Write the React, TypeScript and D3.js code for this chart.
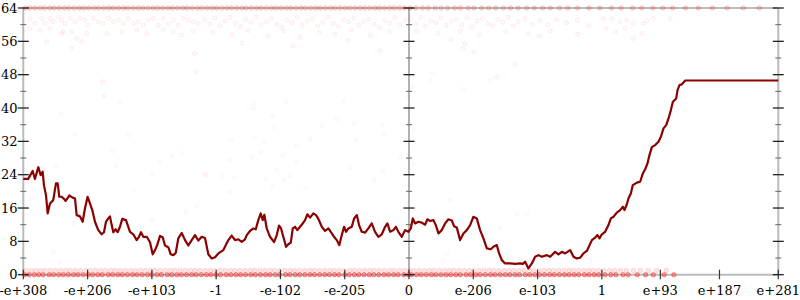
import React from "react";
import * as d3 from "d3";

// x positions are in "tick units": each labelled tick is one unit on the left half
const xTickValues = [-6, -5, -4, -3, -2, -1, 0, 1, 2, 3, 3.91, 4.83, 5.745];
const xTickLabels = ["-e+308", "-e+206", "-e+103", "-1", "-e-102", "-e-205", "0", "e-206", "e-103", "1", "e+93", "e+187", "e+281"];
const yMajorTicks = [0, 8, 16, 24, 32, 40, 48, 56, 64];
const yMinorTicks = [4, 12, 20, 28, 36, 44, 52, 60];

// moving-average line
const lineX = [
  -6.0, -5.923, -5.855, -5.819, -5.767, -5.73, -5.699, -5.679, -5.647, -5.621, -5.585, -5.534, -5.492, -5.465, -5.44, -5.403,
  -5.367, -5.341, -5.285, -5.232, -5.196, -5.17, -5.119, -5.077, -5.041, -5.0, -4.963, -4.927, -4.885, -4.834, -4.781, -4.745,
  -4.714, -4.678, -4.652, -4.625, -4.6, -4.563, -4.532, -4.496, -4.46, -4.403, -4.376, -4.34, -4.289, -4.236, -4.2, -4.169,
  -4.133, -4.08, -4.029, -3.987, -3.951, -3.915, -3.873, -3.831, -3.796, -3.744, -3.707, -3.666, -3.629, -3.589, -3.536, -3.484,
  -3.433, -3.38, -3.329, -3.277, -3.224, -3.173, -3.122, -3.069, -3.017, -2.966, -2.888, -2.81, -2.758, -2.706, -2.655, -2.602,
  -2.551, -2.524, -2.473, -2.421, -2.384, -2.344, -2.306, -2.275, -2.25, -2.213, -2.162, -2.099, -2.057, -2.021, -1.99, -1.955,
  -1.913, -1.877, -1.839, -1.808, -1.772, -1.737, -1.695, -1.653, -1.617, -1.581, -1.539, -1.488, -1.446, -1.41, -1.357, -1.306,
  -1.254, -1.201, -1.166, -1.124, -1.083, -1.046, -1.01, -0.979, -0.943, -0.89, -0.854, -0.812, -0.777, -0.735, -0.683, -0.632,
  -0.579, -0.528, -0.476, -0.423, -0.372, -0.336, -0.294, -0.243, -0.205, -0.165, -0.112, -0.061, -0.009, 0.028, 0.059, 0.095,
  0.146, 0.199, 0.251, 0.286, 0.328, 0.38, 0.417, 0.458, 0.51, 0.562, 0.613, 0.666, 0.702, 0.744, 0.795, 0.847,
  0.899, 0.951, 1.002, 1.055, 1.106, 1.158, 1.211, 1.273, 1.313, 1.366, 1.402, 1.444, 1.495, 1.573, 1.651, 1.729,
  1.771, 1.806, 1.858, 1.911, 1.962, 2.014, 2.067, 2.144, 2.196, 2.274, 2.325, 2.378, 2.43, 2.507, 2.559, 2.611,
  2.663, 2.714, 2.767, 2.845, 2.896, 2.932, 2.963, 3.0, 3.051, 3.103, 3.14, 3.181, 3.233, 3.285, 3.327, 3.352,
  3.389, 3.414, 3.451, 3.482, 3.545, 3.596, 3.638, 3.674, 3.71, 3.741, 3.778, 3.83, 3.881, 3.919, 3.959, 4.001,
  4.037, 4.074, 4.105, 4.157, 4.177, 4.208, 4.245, 4.297, 5.745,
];
const lineY = [
  23.0, 23.0, 24.9, 23.0, 25.8, 23.9, 24.7, 21.5, 19.1, 14.7, 17.1, 17.9, 21.9, 21.9, 18.7, 18.7,
  18.2, 17.7, 19.0, 18.5, 18.3, 14.3, 14.0, 12.7, 15.9, 18.7, 17.1, 15.5, 12.7, 10.7, 9.7, 10.2,
  12.7, 13.5, 14.0, 11.9, 10.2, 10.9, 10.2, 11.5, 13.4, 13.1, 11.9, 10.3, 9.7, 8.3, 9.1, 10.2,
  9.1, 9.1, 7.8, 4.9, 5.9, 7.2, 9.3, 9.0, 7.0, 6.6, 4.9, 4.7, 5.2, 8.7, 10.0, 8.3,
  7.0, 8.3, 9.5, 8.2, 9.1, 8.8, 4.9, 3.9, 4.2, 5.1, 5.9, 8.3, 9.4, 8.3, 8.5, 7.9,
  8.5, 9.5, 10.5, 11.1, 10.9, 13.1, 14.7, 13.1, 14.4, 11.1, 9.1, 7.8, 9.5, 11.8, 11.1, 9.1,
  6.7, 7.3, 7.7, 11.1, 11.5, 10.7, 11.5, 12.3, 13.1, 14.5, 13.7, 14.7, 14.3, 13.4, 11.5, 10.5,
  11.1, 9.9, 9.1, 8.3, 7.1, 9.5, 11.5, 10.3, 11.1, 11.5, 13.5, 14.3, 11.9, 10.3, 10.1, 11.1,
  12.3, 10.3, 9.1, 9.7, 11.5, 12.3, 10.3, 10.7, 11.5, 10.3, 9.1, 10.7, 10.3, 11.1, 13.5, 12.3,
  12.7, 12.5, 12.0, 13.3, 12.9, 13.1, 11.9, 9.9, 10.7, 12.3, 13.3, 13.0, 11.6, 11.3, 8.3, 9.9,
  10.7, 11.9, 13.9, 13.5, 10.7, 8.7, 6.3, 6.1, 6.7, 7.1, 5.1, 3.5, 2.7, 2.7, 2.6, 2.7,
  2.6, 3.1, 1.5, 2.7, 4.3, 4.7, 4.3, 4.7, 4.3, 5.5, 4.9, 5.5, 5.1, 5.9, 4.3, 3.9,
  4.1, 5.1, 5.7, 8.3, 8.9, 9.5, 8.7, 9.7, 10.3, 11.9, 13.5, 13.9, 14.9, 15.5, 16.3, 15.5,
  16.9, 18.3, 19.5, 21.5, 22.1, 22.3, 24.3, 25.3, 26.7, 28.7, 30.6, 31.1, 31.9, 33.1, 35.1, 35.9,
  37.5, 39.5, 41.5, 42.3, 44.3, 45.5, 45.7, 46.6, 46.6,
];

// samples sitting at value 0, value 1 and value 64 (x positions)
const zeroX = [
  -5.98, -5.91, -5.83, -5.76, -5.69, -5.6, -5.53, -5.45, -5.38, -5.3, -5.22, -5.15, -5.07, -4.99, -4.92, -4.84, -4.77, -4.68,
  -4.61, -4.53, -4.46, -4.38, -4.3, -4.23, -4.15, -4.07, -4, -3.92, -3.85, -3.76, -3.69, -3.61, -3.54, -3.46, -3.38, -3.31,
  -3.23, -3.15, -3.08, -3, -2.93, -2.84, -2.77, -2.69, -2.62, -2.54, -2.46, -2.39, -2.31, -2.23, -2.16, -2.08, -2.01, -1.92,
  -1.85, -1.77, -1.7, -1.62, -1.54, -1.47, -1.39, -1.31, -1.24, -1.16, -1.09, -1, -0.93, -0.85, -0.78, -0.7, -0.62, -0.55,
  -0.47, -0.39, -0.32, -0.24, -0.17, -0.08, -0.01, 0.04, 0.12, 0.19, 0.27, 0.35, 0.42, 0.5, 0.58, 0.65, 0.73, 0.8, 0.89,
  0.96, 1.04, 1.11, 1.19, 1.27, 1.34, 1.42, 1.5, 1.57, 1.65, 1.72, 1.81, 1.88, 1.96, 2.03, 2.11, 2.19, 2.26, 2.34, 2.42,
  2.49, 2.57, 2.64, 2.73, 2.8, 2.88, 2.95, 3.05, 3.14, 3.22, 3.33, 3.41, 3.55, 3.68, 3.8, 3.97, 4.12,
];
const oneX = [
  -5.95, -5.87, -5.8, -5.73, -5.66, -5.58, -5.5, -5.42, -5.34, -5.27, -5.19, -5.11, -5.03, -4.96, -4.88, -4.8, -4.72, -4.64,
  -4.57, -4.49, -4.41, -4.33, -4.26, -4.18, -4.1, -4.02, -3.95, -3.87, -3.79, -3.71, -3.64, -3.56, -3.48, -3.4, -3.33, -3.25,
  -3.17, -3.09, -3.02, -2.94, -2.86, -2.78, -2.71, -2.63, -2.55, -2.47, -2.4, -2.32, -2.24, -2.16, -2.09, -2.01, -1.93, -1.85,
  -1.78, -1.7, -1.62, -1.54, -1.47, -1.39, -1.31, -1.23, -1.16, -1.08, -1, -0.92, -0.85, -0.77, -0.69, -0.61, -0.54, -0.46,
  -0.38, -0.3, -0.23, -0.15, -0.07, 0.01, 0.08, 0.16, 0.24, 0.32, 0.39, 0.47, 0.55, 0.63, 0.7, 0.78, 0.86, 0.94, 1.01, 1.09,
  1.17, 1.25, 1.32, 1.4, 1.48, 1.56, 1.63, 1.71, 1.79, 1.87, 1.94, 2.02, 2.1, 2.18, 2.25, 2.33, 2.41, 2.49, 2.56, 2.64, 2.72,
  2.8, 2.87, 2.95, 3.03, 3.12, 3.2, 3.29, 3.38, 3.49, 3.6, 3.72, 3.85, 4.0,
];
const topX = [
  -5.97, -5.9, -5.82, -5.74, -5.67, -5.59, -5.52, -5.44, -5.36, -5.29, -5.21, -5.13, -5.06, -4.98, -4.9, -4.83, -4.75, -4.67,
  -4.6, -4.52, -4.44, -4.37, -4.29, -4.21, -4.14, -4.06, -3.98, -3.91, -3.83, -3.75, -3.68, -3.6, -3.52, -3.45, -3.37, -3.29,
  -3.22, -3.14, -3.06, -2.99, -2.91, -2.83, -2.76, -2.68, -2.6, -2.53, -2.45, -2.37, -2.3, -2.22, -2.14, -2.07, -1.99, -1.91,
  -1.84, -1.76, -1.68, -1.61, -1.53, -1.45, -1.38, -1.3, -1.22, -1.15, -1.07, -0.99, -0.92, -0.84, -0.76, -0.69, -0.61, -0.53,
  -0.46, -0.38, -0.3, -0.23, -0.15, -0.07, 0.02, 0.11, 0.21, 0.3, 0.41, 0.5, 0.6, 0.71, 0.8, 0.92, 1.01, 1.13, 1.24, 1.35,
  1.47, 1.58, 1.7, 1.83, 1.95, 2.08, 2.2, 2.34, 2.47, 2.62, 2.8, 2.97, 3.15, 3.3, 3.48, 3.62, 3.79, 3.95, 4.1, 4.3, 4.5,
  4.72, 4.95, 5.2, 5.45,
];

// scattered samples near the top (x, value)
const upperX = [
  -5.896, -5.819, -5.715, -5.663, -5.585, -5.534, -5.456, -5.403, -5.352, -5.274, -5.196, -5.119, -5.041, -4.989, -4.911, -4.834,
  -4.756, -4.678, -4.6, -4.522, -4.444, -4.367, -4.289, -4.211, -4.133, -4.055, -3.978, -3.9, -3.822, -3.744, -3.666, -3.589,
  -3.511, -3.433, -3.355, -3.277, -5.896, -5.74, -5.585, -5.38, -5.25, -5.17, -5.092, -5.403, -5.636, -5.25, -5.014, -4.703,
  -4.469, -4.236, -4.08, -3.822, -3.666, -3.536, -3.355, -3.313, -3.339, -4.765, -4.739,
  -3.18, -3.1, -3.02, -2.94, -2.86, -2.78, -2.7, -2.62, -2.54, -2.46, -2.38, -2.3, -2.22, -2.14, -2.06, -1.98, -1.9, -1.82,
  -1.74, -1.66, -1.58, -1.5, -1.42, -1.34, -1.26, -1.18, -1.1, -1.02, -0.94, -0.86, -0.78, -0.7, -0.62, -0.54, -0.46, -0.38,
  -0.3, -0.22, -0.14, -0.06, -3.05, -2.75, -2.5, -2.2, -1.95, -1.7, -1.4, -1.15, -0.9, -0.6, -0.3, -2.6, -1.8, -0.95, -0.45,
  0.02, 0.1, 0.18, 0.26, 0.34, 0.42, 0.5, 0.58, 0.66, 0.74, 0.82, 0.9, 0.98, 1.06, 1.14, 1.22, 1.3, 1.38, 1.46, 1.54, 1.62,
  1.7, 1.8, 1.92, 2.04, 2.16, 2.3, 2.45, 2.62, 2.8, 3.025, 3.156, 3.285, 3.389, 3.493, 3.648, 3.804, 4.064, 3.067, 3.207,
  3.363, 3.493, 3.623, 3.701, 0.65, 0.873, 0.837, 1.013, 1.651, 2.025, 2.621, 0.12, 0.45, 0.8, 1.1, 1.5, 1.85, 2.2,
];
const upperY = [
  61.5, 60.3, 61.5, 60.3, 61.5, 60.7, 61.9, 61.1, 60.3, 61.5, 60.7, 61.5, 61.1, 59.9, 61.5, 60.7,
  60.3, 61.5, 60.7, 61.1, 60.3, 61.5, 60.3, 60.7, 59.9, 61.1, 61.5, 59.9, 61.5, 60.3, 61.1, 59.9,
  61.5, 61.1, 60.7, 60.3, 59.1, 58.7, 59.1, 58.3, 58.3, 56.7, 55.9, 57.9, 55.9, 54.3, 57.9, 57.9,
  58.3, 58.7, 57.9, 58.7, 58.3, 57.5, 58.3, 48.7, 53.1, 46.3, 43.0,
  61.2, 60.1, 61.6, 59.8, 60.9, 61.8, 60.4, 59.5, 61.3, 60.6, 61.9, 59.9, 60.8, 61.5, 60.2, 59.4, 61.1, 60.5,
  61.7, 60.0, 60.9, 61.4, 59.7, 60.6, 61.8, 60.3, 59.6, 61.2, 60.7, 61.6, 59.9, 60.8, 61.3, 60.1, 59.3, 61.0,
  60.4, 61.7, 60.0, 61.1, 58.2, 57.6, 58.6, 57.3, 58.4, 57.0, 58.1, 57.7, 58.8, 57.4, 58.3, 55.6, 54.9, 56.1, 53.8,
  61.4, 60.2, 61.8, 59.6, 61.0, 60.5, 61.6, 59.9, 60.8, 61.3, 60.0, 61.7, 59.5, 60.9, 61.4, 60.3, 59.8, 61.2, 60.6, 61.8, 59.7,
  60.7, 61.5, 60.1, 61.0, 59.9, 61.3, 60.4, 61.1, 59.8, 61.5, 61.5, 60.7, 61.1, 60.3, 60.3, 61.5, 61.5, 59.1, 58.3,
  59.1, 56.7, 57.9, 61.0, 56.5, 55.5, 54.3, 53.4, 50.5, 57.3, 57.7, 58.4, 57.9, 58.6, 57.6, 58.3, 57.8, 58.5,
];

// sparse samples in the middle of the plot (x, value)
const midX = [
  -2.421, -2.421, -1.917, -1.021, -2.12, -2.099, -1.348, -1.124, -0.85, -0.414, -0.387, -2.768, -2.406, -2.25, -1.746, -1.539,
  -0.828, -2.302, -2.437, -1.964, -2.795, -1.746, -2.057, -0.917, -0.408, -3.158, -2.898, -2.717, -2.229, -1.948, -1.85, -2.12,
  -1.612, -0.543, -2.795, 0.068, -0.139, 0.068, 0.006, -4.495, -5.414, -5.196, -4.367, -4.609, -3.691, -3.536, -3.884, -4.563,
  -5.481, -3.987, -4.273, -5.881, -3.173, -5.222, -3.302, -3.47, -5.534, -5.43, -4.003, 0.64, 1.678, 1.833, 1.418, 0.535,
  0.588, 0.365, 0.328, 1.262, 1.34, 1.376, 0.847, 0.059, -0.009,
];
const midY = [
  41.1, 39.9, 41.5, 41.7, 38.1, 35.5, 35.7, 37.3, 36.3, 35.9, 33.9, 32.5, 32.7, 31.9, 31.0, 32.5,
  32.3, 29.4, 28.2, 28.7, 27.5, 26.9, 25.0, 25.7, 24.9, 23.9, 23.7, 23.3, 23.0, 22.7, 23.9, 21.1,
  20.7, 22.6, 19.9, 34.7, 28.2, 26.7, 21.5, 41.5, 38.5, 33.7, 33.5, 29.7, 28.6, 29.1, 26.9, 26.1,
  26.1, 24.3, 20.3, 18.2, 24.1, 12.3, 16.6, 15.1, 5.4, 3.0, 13.1, 17.9, 14.7, 14.7, 11.1, 3.3,
  5.1, 48.3, 46.6, 46.6, 47.4, 47.4, 44.5, 45.3, 42.6,
];

const W = 800;
const H = 300;

export default function App() {
  const x = d3.scaleLinear().domain([-6, 5.745]).range([23.3, 778.3]);
  const y = d3.scaleLinear().domain([0, 64]).range([274.7, 8]);
  const linePts: [number, number][] = lineX.map((v, i) => [v, lineY[i]]);
  const path = d3
    .line<[number, number]>()
    .x((d) => x(d[0]))
    .y((d) => y(d[1]))(linePts);

  const x0 = x(-6);
  const x1 = x(5.745);
  const xm = x(0);
  const y0 = y(0);
  const y1 = y(64);
  const font = "DejaVu Serif, serif";

  const yAxisTicks = (ax: number, key: string) => (
    <g key={key}>
      {yMinorTicks.map((t) => (
        <line key={"mi" + t} x1={ax - 3} x2={ax + 3} y1={y(t)} y2={y(t)} stroke="#666" strokeWidth={1} />
      ))}
      {yMajorTicks.map((t) => (
        <line key={"ma" + t} x1={ax - 5.5} x2={ax + 5.5} y1={y(t)} y2={y(t)} stroke="#222" strokeWidth={1.3} />
      ))}
    </g>
  );

  return (
    <svg width={W} height={H} style={{ position: "absolute", left: 0, top: 0, background: "#fff" }}>
      {/* frame */}
      <line x1={x0} x2={x1} y1={y1} y2={y1} stroke="#bbb" strokeWidth={2} />
      <line x1={x0} x2={x1} y1={y0} y2={y0} stroke="#bbb" strokeWidth={2} />
      <line x1={x0} x2={x0} y1={y1} y2={y0} stroke="#bbb" strokeWidth={2} />
      <line x1={x1} x2={x1} y1={y1} y2={y0} stroke="#bbb" strokeWidth={2} />
      <line x1={xm} x2={xm} y1={y1} y2={y0} stroke="#666" strokeWidth={1} />

      {/* samples */}
      <g fill="red" stroke="red">
        {midX.map((v, i) => (
          <circle key={"m" + i} cx={x(v)} cy={y(midY[i])} r={2} fillOpacity={0.015} strokeOpacity={0.04} />
        ))}
        {upperX.map((v, i) => (
          <circle key={"u" + i} cx={x(v)} cy={y(upperY[i])} r={2} fillOpacity={0.02} strokeOpacity={0.07} />
        ))}
        {topX.map((v, i) => (
          <circle key={"t" + i} cx={x(v)} cy={y(64)} r={2.2} fillOpacity={0.12} strokeOpacity={0.2} />
        ))}
        {oneX.map((v, i) => (
          <circle key={"o" + i} cx={x(v)} cy={y(1)} r={2.2} fillOpacity={0.1} strokeOpacity={0.12} />
        ))}
        {zeroX.map((v, i) => (
          <circle key={"z" + i} cx={x(v)} cy={y(0)} r={2.2} fillOpacity={0.3} strokeOpacity={0.4} />
        ))}
      </g>

      {/* axes ticks */}
      {yAxisTicks(x0, "l")}
      {yAxisTicks(xm, "m")}
      {yAxisTicks(x1, "r")}
      {xTickValues.map((t, i) => (
        <g key={"xt" + i}>
          <line x1={x(t)} x2={x(t)} y1={y0 - 5} y2={y0 + 4.5} stroke="#333" strokeWidth={1.2} />
          <text x={x(t)} y={295} textAnchor="middle" fontFamily={font} fontSize={13} fill="#000">
            {xTickLabels[i]}
          </text>
        </g>
      ))}
      {yMajorTicks.map((t) => (
        <text key={"yl" + t} x={17.5} y={y(t)} dy="0.36em" textAnchor="end" fontFamily={font} fontSize={13} fill="#000">
          {t}
        </text>
      ))}

      {/* moving average line */}
      <path d={path ?? ""} fill="none" stroke="#8b0000" strokeWidth={2.2} strokeLinejoin="round" />
    </svg>
  );
}
